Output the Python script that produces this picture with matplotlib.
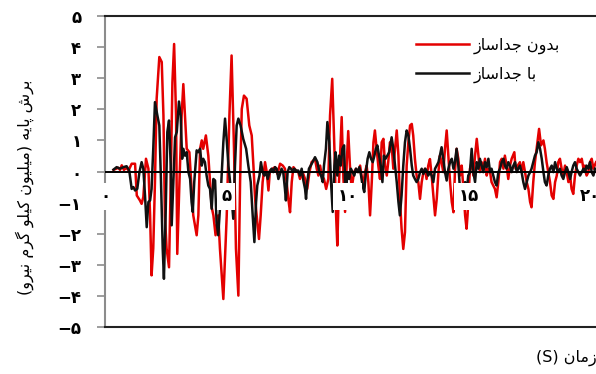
import matplotlib
matplotlib.use("Agg")
import matplotlib.pyplot as plt

plt.rcParams['font.family'] = ['DejaVu Sans']

# ---------------------------------------------------------------- data
time_red = [0.35, 0.55, 0.62, 0.69, 0.78, 0.89, 0.97, 1.10, 1.24, 1.31, 1.44, 1.51, 1.58, 1.69, 1.79, 1.86,
            1.92, 1.99, 2.06, 2.13, 2.24, 2.34, 2.41, 2.47, 2.54, 2.64, 2.71, 2.78, 2.85, 2.93, 2.98, 3.07,
            3.16, 3.23, 3.30, 3.37, 3.48, 3.57, 3.64, 3.78, 3.85, 3.92, 3.99, 4.05, 4.16, 4.26, 4.33, 4.40,
            4.47, 4.56, 4.67, 4.74, 4.88, 5.02, 5.13, 5.22, 5.32, 5.40, 5.50, 5.57, 5.64, 5.73, 5.84, 5.95,
            6.05, 6.12, 6.19, 6.28, 6.35, 6.42, 6.50, 6.60, 6.67, 6.74, 6.80, 6.91, 7.01, 7.11, 7.22, 7.33,
            7.42, 7.49, 7.56, 7.63, 7.70, 7.77, 7.88, 7.97, 8.04, 8.15, 8.25, 8.34, 8.43, 8.52, 8.66, 8.73,
            8.80, 8.87, 8.94, 9.03, 9.12, 9.21, 9.28, 9.37, 9.46, 9.53, 9.58, 9.65, 9.76, 9.83, 9.90, 9.97,
            10.03, 10.10, 10.17, 10.27, 10.35, 10.45, 10.52, 10.58, 10.65, 10.72, 10.79, 10.86, 10.93, 11.00,
            11.07, 11.13, 11.20, 11.27, 11.34, 11.41, 11.48, 11.55, 11.62, 11.68, 11.75, 11.82, 11.89, 11.96,
            12.03, 12.10, 12.16, 12.23, 12.30, 12.37, 12.44, 12.51, 12.58, 12.65, 12.71, 12.78, 12.85, 12.92,
            12.99, 13.06, 13.13, 13.20, 13.26, 13.33, 13.40, 13.47, 13.54, 13.61, 13.68, 13.75, 13.81, 13.88,
            13.95, 14.02, 14.09, 14.16, 14.23, 14.30, 14.37, 14.43, 14.50, 14.57, 14.64, 14.71, 14.78, 14.85,
            14.91, 14.95, 15.05, 15.12, 15.19, 15.26, 15.33, 15.40, 15.46, 15.53, 15.60, 15.67, 15.74, 15.81,
            15.88, 15.94, 16.08, 16.15, 16.22, 16.29, 16.36, 16.43, 16.49, 16.56, 16.63, 16.70, 16.77, 16.88,
            16.93, 17.02, 17.11, 17.18, 17.25, 17.32, 17.39, 17.46, 17.53, 17.59, 17.66, 17.73, 17.80, 17.90,
            17.98, 18.08, 18.14, 18.21, 18.28, 18.35, 18.42, 18.49, 18.56, 18.63, 18.69, 18.76, 18.83, 18.90,
            18.97, 19.04, 19.11, 19.18, 19.24, 19.31, 19.38, 19.45, 19.52, 19.59, 19.66, 19.73, 19.79, 19.86,
            19.93, 20.00, 20.07, 20.14, 20.25]
shear_red = [0.05, 0.12, 0.05, 0.20, 0.05, 0.12, 0.03, 0.25, 0.25, -0.77, -0.93, -1.04, -0.82, 0.41, 0.09, -1.41,
             -3.34, -2.47, -0.34, 2.34, 3.68, 3.52, 1.80, -1.41, -2.47, -3.08, -0.34, 2.87, 4.10, 1.80, -2.65, -0.34,
             1.80, 2.81, 1.80, 0.73, 0.62, -0.56, -1.41, -2.05, -1.41, 0.73, 1.00, 0.73, 1.16, 0.51, -0.34, -1.15,
             -1.41, -2.05, -1.41, -2.48, -4.10, -1.41, 1.80, 3.73, 0.73, -2.48, -3.99, -0.34, 2.01, 2.44, 2.34, 1.48,
             1.16, 0.19, -0.88, -1.63, -2.17, -1.41, -0.34, 0.30, -0.02, -0.61, 0.03, 0.09, 0.14, -0.08, 0.25, 0.19,
             0.09, -0.34, -0.88, -1.31, -0.34, 0.14, 0.03, -0.02, -0.24, -0.02, -0.24, -0.56, -0.02, 0.30, 0.41, 0.09,
             -0.13, 0.19, -0.13, -0.24, -0.56, -0.24, 1.80, 2.98, 0.73, -1.41, -2.38, -0.34, 1.75, -0.20, -1.30, 0.30,
             1.30, 0.19, -0.56, -0.02, 0.09, -0.02, 0.19, -0.13, -0.45, -0.02, 0.19, -0.34, -1.41, -0.34,
             0.94, 1.32, 0.73, 0.19, -0.24, 0.94, 1.05, 0.19, -0.13, 0.30, 0.94, 0.84, 0.09, 0.73,
             1.32, 0.51, -0.88, -1.84, -2.49, -1.95, 0.19, 0.94, 1.48, 1.53, 1.16, 0.41, -0.13, -0.34,
             -0.88, -0.34, -0.02, 0.09, -0.24, 0.19, 0.40, -0.13, -0.77, -1.41, -0.88, -0.02, 0.51, 0.30,
             -0.02, 0.73, 1.32, 0.51, -0.34, -0.98, -1.31, -0.02, 0.73, 0.41, -0.13, 0.19, -0.56, -1.41,
             -1.84, -1.41, 0.09, 0.30, -0.13, 0.51, 1.05, 0.51, -0.02, 0.30, 0.09, 0.41, -0.13, 0.09,
             -0.02, -0.34, -0.56, -0.83, -0.34, 0.30, 0.41, 0.09, 0.51, 0.19, -0.24, 0.19, 0.41, 0.62,
             0.09, 0.19, 0.30, -0.02, 0.30, -0.02, -0.34, -0.56, -0.98, -1.15, -0.34, 0.30, 0.73, 1.37,
             0.84, 1.00, 0.73, 0.30, -0.02, -0.34, -0.77, -0.88, -0.34, -0.13, 0.30, 0.41, 0.09, -0.13,
             0.19, -0.02, -0.34, -0.13, -0.56, -0.72, -0.13, 0.19, 0.41, 0.30, 0.41, 0.09, 0.19, -0.13,
             -0.02, 0.30, 0.41, 0.09, 0.30]

time_black = [0.35, 0.48, 0.62, 0.76, 0.89, 1.00, 1.10, 1.17, 1.24, 1.33, 1.42, 1.51, 1.58, 1.65, 1.72, 1.79,
              1.86, 1.92, 1.99, 2.06, 2.16, 2.24, 2.31, 2.38, 2.43, 2.50, 2.57, 2.64, 2.71, 2.75, 2.82, 2.89,
              2.96, 3.05, 3.12, 3.18, 3.23, 3.30, 3.37, 3.44, 3.51, 3.57, 3.62, 3.68, 3.78, 3.85, 3.92, 3.99,
              4.05, 4.12, 4.19, 4.26, 4.33, 4.40, 4.47, 4.54, 4.60, 4.67, 4.74, 4.81, 4.88, 4.95, 5.02, 5.09,
              5.20, 5.29, 5.36, 5.43, 5.50, 5.59, 5.70, 5.82, 5.91, 6.01, 6.09, 6.16, 6.23, 6.28, 6.37, 6.43,
              6.50, 6.57, 6.64, 6.71, 6.78, 6.87, 6.94, 7.01, 7.08, 7.15, 7.22, 7.28, 7.35, 7.42, 7.46, 7.53,
              7.60, 7.67, 7.74, 7.80, 7.88, 7.97, 8.04, 8.11, 8.18, 8.25, 8.29, 8.34, 8.41, 8.48, 8.56, 8.66,
              8.76, 8.84, 8.91, 8.98, 9.03, 9.11, 9.17, 9.25, 9.32, 9.39, 9.46, 9.51, 9.58, 9.65, 9.72, 9.79,
              9.86, 9.90, 9.94, 9.99, 10.07, 10.14, 10.21, 10.28, 10.35, 10.42, 10.49, 10.56, 10.62, 10.69,
              10.76, 10.83, 10.90, 10.97, 11.04, 11.11, 11.17, 11.23, 11.30, 11.37, 11.44, 11.50, 11.57, 11.64,
              11.72, 11.82, 11.89, 11.96, 12.03, 12.10, 12.16, 12.23, 12.30, 12.37, 12.44, 12.51, 12.58, 12.65,
              12.71, 12.78, 12.85, 12.92, 12.99, 13.06, 13.13, 13.20, 13.26, 13.33, 13.40, 13.47, 13.54, 13.61,
              13.68, 13.75, 13.81, 13.88, 13.95, 14.02, 14.09, 14.16, 14.23, 14.30, 14.37, 14.43, 14.50, 14.57,
              14.64, 14.71, 14.78, 14.85, 14.91, 14.98, 15.05, 15.12, 15.19, 15.26, 15.33, 15.40, 15.46, 15.53,
              15.60, 15.67, 15.74, 15.81, 15.88, 15.94, 16.01, 16.08, 16.15, 16.22, 16.29, 16.36, 16.43, 16.49,
              16.56, 16.63, 16.70, 16.77, 16.84, 16.91, 16.98, 17.04, 17.11, 17.18, 17.25, 17.32, 17.39, 17.46,
              17.53, 17.59, 17.66, 17.73, 17.80, 17.87, 17.94, 18.01, 18.08, 18.14, 18.21, 18.28, 18.35, 18.42,
              18.49, 18.56, 18.63, 18.69, 18.76, 18.83, 18.90, 18.97, 19.04, 19.11, 19.18, 19.24, 19.31, 19.38,
              19.45, 19.52, 19.59, 19.66, 19.73, 19.79, 19.86, 19.93, 20.00, 20.07, 20.14, 20.21]
shear_black = [0.06, 0.14, 0.09, 0.14, 0.17, 0.03, -0.56, -0.50, -0.61, -0.56, -0.02, 0.30, 0.09, -0.77, -1.79, -0.98,
               -0.93, -0.56, 0.73, 2.23, 1.80, 1.48, -0.34, -2.48, -3.45, -1.41, 1.27, 1.64, 0.19, -1.73, -0.34, 1.10,
               1.27, 2.25, 1.80, 0.41, 0.73, 0.51, 0.62, -0.02, -0.24, -0.98, -1.30, -0.34, 0.68, 0.62, 0.73, 0.19,
               0.41, 0.30, -0.13, -0.45, -0.56, -1.20, -0.24, -0.29, -1.63, -2.05, -1.20, -0.13, 0.94, 1.70, 1.00, 0.19,
               -0.66, -1.52, 0.19, 1.48, 1.70, 1.48, 1.05, 0.73, 0.19, -0.34, -1.41, -2.27, -0.98, -0.45, -0.13, 0.30,
               -0.02, -0.13, -0.02, -0.24, -0.02, 0.09, -0.02, 0.14, 0.09, -0.24, -0.08, 0.09, -0.02, -0.56, -0.93, -0.02,
               0.14, 0.09, -0.02, 0.09, 0.03, 0.03, -0.13, 0.09, -0.29, -0.56, -0.88, -0.34, 0.09, 0.19, 0.30, 0.46,
               0.30, -0.02, -0.13, -0.34, 0.19, 0.73, 1.59, 0.94, -0.34, -1.30, 0.19, 0.62, -0.13, 0.51, 0.19, 0.73,
               0.84, -0.34, -0.77, -0.02, -0.24, 0.09, -0.02, -0.13, 0.09, -0.02, 0.14, -0.13, -0.45, -0.66,
               -0.02, 0.41, 0.62, 0.41, 0.30, 0.51, 0.73, 0.84, 0.51, 0.19, -0.34, 0.51, 0.41, 0.51,
               0.62, 1.10, 0.73, 0.19, -0.34, -0.98, -1.41, -0.77, 0.19, 0.94, 1.32, 1.16, 0.73, 0.19,
               -0.13, -0.24, -0.34, -0.24, -0.02, 0.09, -0.08, 0.09, 0.03, -0.13, -0.02, -0.13, -0.34, 0.09,
               0.19, 0.30, 0.51, 0.78, 0.41, -0.02, -0.29, 0.09, 0.30, 0.41, 0.09, 0.30, 0.73, 0.19,
               -0.56, -1.15, -0.77, -0.34, -0.66, -0.13, -0.02, 0.73, -0.02, -0.34, 0.30, 0.09, 0.41, 0.19,
               -0.02, 0.30, 0.14, 0.41, -0.02, 0.09, -0.13, -0.34, -0.45, -0.02, 0.09, 0.30, 0.41, 0.19,
               0.09, 0.30, 0.19, -0.02, 0.19, 0.30, -0.02, 0.09, 0.19, -0.02, -0.34, -0.56, -0.34, -0.13,
               -0.02, 0.09, 0.30, 0.51, 0.62, 0.94, 0.73, 0.41, -0.02, -0.34, -0.45, -0.13, 0.09, 0.19,
               -0.02, 0.30, 0.09, -0.02, 0.09, -0.13, -0.24, -0.02, 0.14, -0.02, -0.24, -0.02, 0.19, 0.30,
               0.09, -0.02, -0.13, -0.02, 0.09, -0.02, 0.19, 0.09, 0.30, -0.02, -0.13, 0.09]

y_ticks = [-5, -4, -3, -2, -1, 0, 1, 2, 3, 4, 5]
y_tick_labels = ["−۵", "−۴", "−۳", "−۲", "−۱", "۰", "۱", "۲", "۳", "۴", "۵"]
x_ticks = [0, 5, 10, 15, 20]
x_tick_labels = ["۰", "۵", "۱۰", "۱۵", "۲۰"]

label_red = "بدون جداساز"
label_black = "با جداساز"
y_title = "برش پایه (میلیون کیلو گرم نیرو)"
x_title = "زمان"

# ---------------------------------------------------------------- Persian shaping
# matplotlib lays text out left to right without joining, so letters are
# mapped to their contextual presentation forms and the run is reversed.
FORMS = {
    'ا': ('\uFE8D', '\uFE8E', None, None),
    'ب': ('\uFE8F', '\uFE90', '\uFE91', '\uFE92'),
    'پ': ('\uFB56', '\uFB57', '\uFB58', '\uFB59'),
    'ج': ('\uFE9D', '\uFE9E', '\uFE9F', '\uFEA0'),
    'د': ('\uFEA9', '\uFEAA', None, None),
    'ر': ('\uFEAD', '\uFEAE', None, None),
    'ز': ('\uFEAF', '\uFEB0', None, None),
    'س': ('\uFEB1', '\uFEB2', '\uFEB3', '\uFEB4'),
    'ش': ('\uFEB5', '\uFEB6', '\uFEB7', '\uFEB8'),
    'ک': ('\uFB8E', '\uFB8F', '\uFB90', '\uFB91'),
    'گ': ('\uFB92', '\uFB93', '\uFB94', '\uFB95'),
    'ل': ('\uFEDD', '\uFEDE', '\uFEDF', '\uFEE0'),
    'م': ('\uFEE1', '\uFEE2', '\uFEE3', '\uFEE4'),
    'ن': ('\uFEE5', '\uFEE6', '\uFEE7', '\uFEE8'),
    'ه': ('\uFEE9', '\uFEEA', '\uFEEB', '\uFEEC'),
    'و': ('\uFEED', '\uFEEE', None, None),
    'ی': ('\uFBFC', '\uFBFD', '\uFBFE', '\uFBFF'),
}
MIRROR = {'(': ')', ')': '('}


def rtl(text):
    out = []
    for i, ch in enumerate(text):
        if ch not in FORMS:
            out.append(ch)
            continue
        iso, fin, ini, med = FORMS[ch]
        prev = text[i - 1] if i > 0 else ''
        nxt = text[i + 1] if i + 1 < len(text) else ''
        join_prev = prev in FORMS and FORMS[prev][2] is not None
        join_next = ini is not None and nxt in FORMS
        if join_prev and join_next:
            out.append(med)
        elif join_prev:
            out.append(fin)
        elif join_next:
            out.append(ini)
        else:
            out.append(iso)
    return ''.join(MIRROR.get(c, c) for c in reversed(out))


# ---------------------------------------------------------------- figure
W, H = 596, 374
fig = plt.figure(figsize=(W / 100, H / 100), dpi=100)
ax = fig.add_axes([105 / W, 47 / H, 495 / W, 311 / H])

red = '#e40000'
black = '#111111'
ax.plot(time_red, shear_red, color=red, lw=1.8, label=rtl(label_red), zorder=2,
        solid_joinstyle='round')
ax.plot(time_black, shear_black, color=black, lw=1.8, label=rtl(label_black), zorder=2.1,
        solid_joinstyle='round')
ax.axhline(0, color='black', lw=1.4, zorder=3)

ax.set_xlim(0, 495 / 24.25)
ax.set_ylim(-5, 5)

for side in ('top', 'bottom'):
    ax.spines[side].set_color('#222222')
    ax.spines[side].set_linewidth(1.5)
ax.spines['right'].set_visible(False)
ax.spines['left'].set_color('#8c8c8c')
ax.spines['left'].set_linewidth(1.5)

ax.set_xticks([])
ax.set_yticks(y_ticks)
ax.set_yticklabels(y_tick_labels, fontsize=12, fontweight='bold')
ax.tick_params(axis='y', direction='out', length=6, width=1.2, color='#8c8c8c', pad=11)

for xv, lab in zip(x_ticks, x_tick_labels):
    ax.text(xv, -0.8, lab, ha='center', va='center', fontsize=12, fontweight='bold',
            zorder=5, clip_on=False,
            bbox=dict(facecolor='white', edgecolor='none', pad=3))

leg = ax.legend(loc='upper left', bbox_to_anchor=(408 / W, 1 - 30 / H),
                bbox_transform=fig.transFigure, frameon=False, fontsize=11.5,
                handlelength=3.3, handletextpad=0.3, labelspacing=0.75, borderpad=0)

fig.text(25 / W, 1 - 187 / H, rtl(y_title), rotation=90, ha='center', va='center', fontsize=11.5)
fig.text(566 / W, 1 - 358 / H, "(S) " + rtl(x_title), ha='center', va='center', fontsize=11.5)

fig.savefig('out.png', dpi=100)
